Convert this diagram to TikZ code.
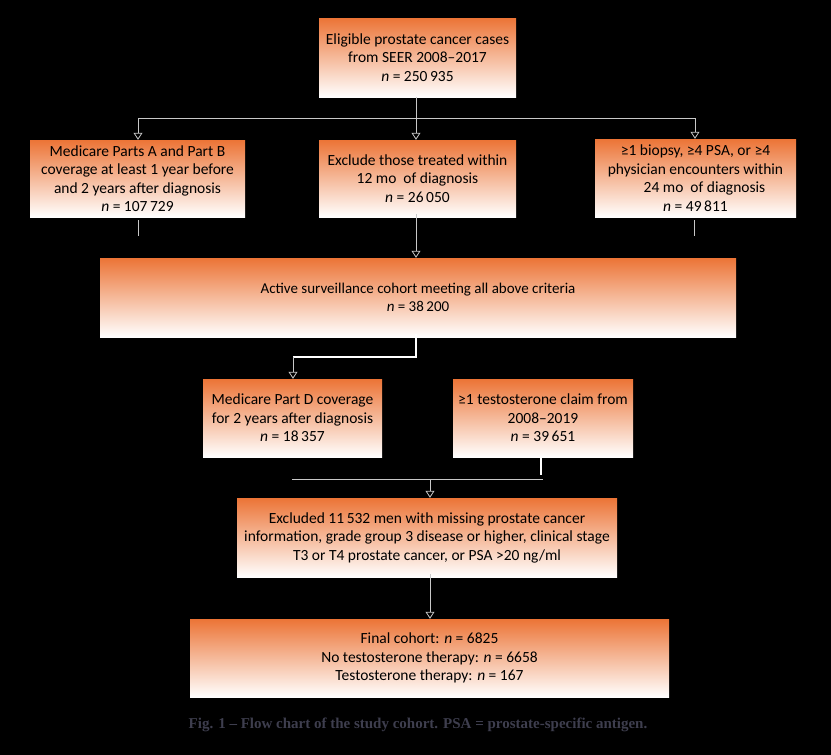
\documentclass[tikz,border=0pt]{standalone}
\usepackage{fontspec}
\setmainfont{Carlito}
\newfontfamily\capfont{Liberation Serif}
\usetikzlibrary{arrows.meta}
\definecolor{boxorange}{RGB}{236,116,54}
\definecolor{linegray}{RGB}{200,200,200}
\definecolor{capcol}{RGB}{62,62,78}
\begin{document}
\begin{tikzpicture}[x=1pt,y=-1pt,
  fbox/.style={rectangle, inner sep=0pt, top color=boxorange, bottom color=white,
    align=center, font=\fontsize{15.5}{18.5}\selectfont, text=black},
  conn/.style={draw=linegray, line width=0.8pt},
  bright/.style={draw=white, line width=1.2pt},
  arr/.style={conn, -{Triangle[open, width=9pt, length=7pt, fill=black]}}
]
\useasboundingbox (0,0) rectangle (831,755);
\fill[black] (0,0) rectangle (831,755);

\node[fbox, minimum width=197pt, minimum height=79pt] (top) at (417.5,57.5)
  {Eligible prostate cancer cases\\from SEER 2008–2017\\\textit{n} = 250\,935};
\node[fbox, minimum width=215pt, minimum height=77pt] (left) at (137.5,178.5)
  {Medicare Parts A and Part B\\coverage at least 1 year before\\and 2 years after diagnosis\\\textit{n} = 107\,729};
\node[fbox, minimum width=197pt, minimum height=77pt] (mid) at (417.5,178.5)
  {Exclude those treated within\\12 mo\ \ of diagnosis\\\textit{n} = 26\,050};
\node[fbox, minimum width=201pt, minimum height=78pt] (right) at (695.5,178)
  {≥1 biopsy, ≥4 PSA, or ≥4\\physician encounters within\\\hspace*{18pt}24 mo\ \ of diagnosis\\\textit{n} = 49\,811};
\node[fbox, minimum width=636pt, minimum height=79pt, font=\fontsize{15}{18}\selectfont] (big) at (418,297.5)
  {Active surveillance cohort meeting all above criteria\\\textit{n} = 38\,200};
\node[fbox, minimum width=179pt, minimum height=78pt] (partd) at (292.5,418)
  {Medicare Part D coverage\\for 2 years after diagnosis\\\textit{n} = 18\,357};
\node[fbox, minimum width=180pt, minimum height=78pt] (testo) at (543,418)
  {≥1 testosterone claim from\\2008–2019\\\textit{n} = 39\,651};
\node[fbox, minimum width=380pt, minimum height=79pt] (excl) at (427,537.5)
  {Excluded 11\,532 men with missing prostate cancer\\information, grade group 3 disease or higher, clinical stage\\T3 or T4 prostate cancer, or PSA >20 ng/ml};
\node[fbox, minimum width=479pt, minimum height=78pt] (final) at (429.5,658)
  {Final cohort: \textit{n} = 6825\\No testosterone therapy: \textit{n} = 6658\\Testosterone therapy: \textit{n} = 167};

\node[font=\capfont\bfseries\fontsize{15}{17}\selectfont, text=capcol, anchor=center] (cap) at (418,725)
  {Fig. 1 – Flow chart of the study cohort. PSA = prostate-specific antigen.};

% connectors
\coordinate (busL) at (138,118);
\coordinate (busR) at (695,118);
\coordinate (busM) at (416,118);
\draw[conn] (top.south -| busM) -- (busM);
\draw[conn] (busL) -- (busR);
\draw[arr] (busL) -- (busL |- left.north);
\draw[arr] (busM) -- (busM |- mid.north);
\draw[arr] (busR) -- (busR |- right.north);

\coordinate (lstub) at (138,236);
\coordinate (rstub) at (694,236);
\draw[conn] (lstub |- left.south) ++(0,3) -- (lstub);
\draw[conn] (rstub |- right.south) ++(0,3) -- (rstub);
\draw[arr] ([yshift=3pt]busM |- mid.south) -- (busM |- big.north);

\coordinate (b2M) at (416,357);
\coordinate (b2L) at (293,357);
\draw[bright] ([yshift=3pt]b2M |- big.south) -- (b2M) -- (b2L);
\draw[arr] (b2L) -- (b2L |- partd.north);

\coordinate (tstub) at (541,475);
\coordinate (b3R) at (543,479);
\coordinate (b3L) at (292,479);
\coordinate (b3M) at (430,479);
\draw[bright] ([yshift=1pt]tstub |- testo.south) -- (tstub);
\draw[conn] (b3L) -- (b3R);
\draw[arr] (b3M) -- (b3M |- excl.north);
\draw[arr] ([yshift=3pt]b3M |- excl.south) -- (b3M |- final.north);
\end{tikzpicture}
\end{document}
